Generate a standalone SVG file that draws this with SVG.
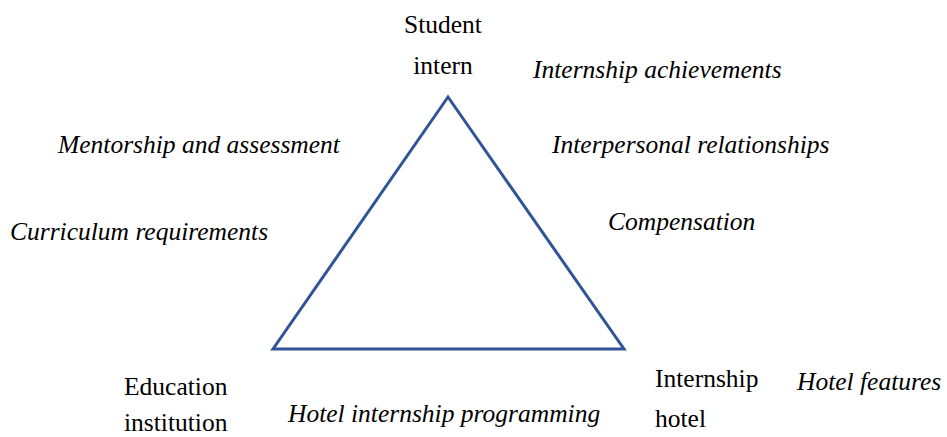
<svg xmlns="http://www.w3.org/2000/svg" width="947" height="437" viewBox="0 0 947 437" font-family="Liberation Serif, DejaVu Serif, serif">
  <style>
    text { font-family: "Liberation Serif", "DejaVu Serif", serif; font-size: 25.5px; fill: #000; }
    .party { font-style: normal; }
    .factor { font-style: italic; }
    .edge { fill: none; stroke: #2F5597; stroke-width: 3; stroke-linejoin: miter; }
  </style>
  <rect width="947" height="437" fill="#ffffff"/>

  <!-- triangle linking the three parties -->
  <g id="connectors">
    <polygon class="edge" points="448,97 273,349 624,349"/>
  </g>

  <!-- parties at the corners -->
  <g id="student-intern">
    <text class="party" x="443" y="33" text-anchor="middle">Student</text>
    <text class="party" x="443" y="74" text-anchor="middle">intern</text>
  </g>
  <g id="education-institution">
    <text class="party" x="124" y="395">Education</text>
    <text class="party" x="124" y="431">institution</text>
  </g>
  <g id="internship-hotel">
    <text class="party" x="655" y="387">Internship</text>
    <text class="party" x="655" y="427">hotel</text>
  </g>

  <!-- factors along each side -->
  <g id="internship-achievements">
    <text class="factor" x="533" y="78">Internship achievements</text>
  </g>
  <g id="interpersonal-relationships">
    <text class="factor" x="552" y="153">Interpersonal relationships</text>
  </g>
  <g id="compensation">
    <text class="factor" x="608" y="230">Compensation</text>
  </g>
  <g id="mentorship-assessment">
    <text class="factor" x="58" y="153">Mentorship and assessment</text>
  </g>
  <g id="curriculum-requirements">
    <text class="factor" x="10" y="240">Curriculum requirements</text>
  </g>
  <g id="hotel-internship-programming">
    <text class="factor" x="288" y="422">Hotel internship programming</text>
  </g>
  <g id="hotel-features">
    <text class="factor" x="797" y="390">Hotel features</text>
  </g>
</svg>
